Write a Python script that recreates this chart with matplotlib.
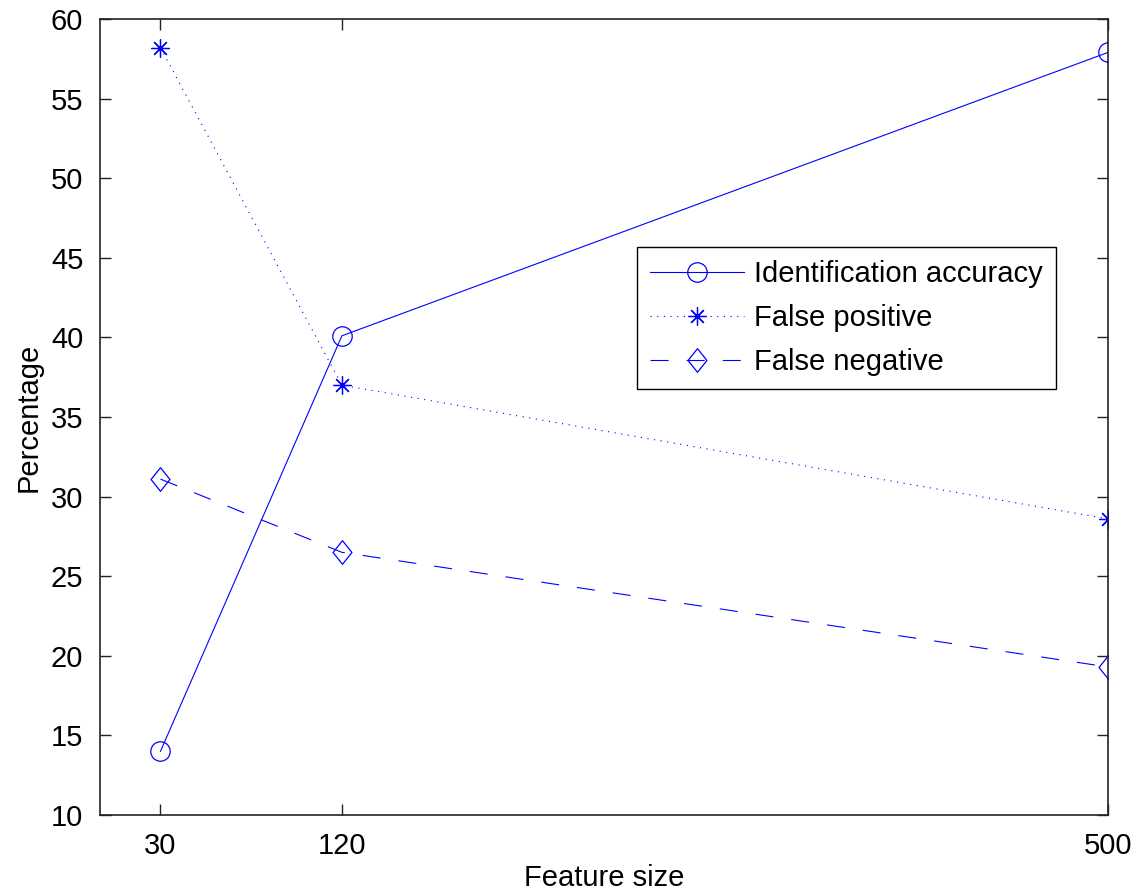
import matplotlib
matplotlib.use("Agg")
import matplotlib.pyplot as plt
from matplotlib.path import Path

plt.rcParams['font.family'] = ['Liberation Sans', 'DejaVu Sans']
plt.rcParams['lines.scale_dashes'] = False

# Données
feature_size = [30, 120, 500]
accuracy = [14.0, 40.1, 57.9]
false_pos = [58.2, 37.0, 28.6]
false_neg = [31.1, 26.5, 19.3]

# losange un peu plus haut que large, comme dans MATLAB
diamond = Path([(0, 1), (0.8, 0), (0, -1), (-0.8, 0), (0, 1)],
               [Path.MOVETO, Path.LINETO, Path.LINETO, Path.LINETO, Path.CLOSEPOLY])

fig = plt.figure(figsize=(11.4, 8.96), dpi=100)
ax = fig.add_axes([0.0877, 0.0904, 0.8842, 0.8884])

blue = '#0000ff'
ax.plot(feature_size, accuracy, color=blue, linestyle='-', linewidth=0.8,
        marker='o', markersize=14, markerfacecolor='none', markeredgewidth=0.9,
        label='Identification accuracy')
ax.plot(feature_size, false_pos, color=blue, linestyle=(0, (0.8, 4)), linewidth=0.8,
        marker=(8, 2, 0), markersize=13, markeredgewidth=0.9,
        label='False positive')
ax.plot(feature_size, false_neg, color=blue, linestyle=(0, (13, 13)), linewidth=0.8,
        marker=diamond, markersize=17, markerfacecolor='none', markeredgewidth=0.9,
        label='False negative')

ax.set_xlim(0, 500)
ax.set_ylim(10, 60)
ax.set_xticks(feature_size)
ax.set_yticks(range(10, 61, 5))
ax.tick_params(direction='in', top=True, right=True, length=8, width=1,
               labelsize=21, pad=12, colors='#222222', labelcolor='black')
for sp in ax.spines.values():
    sp.set_linewidth(1.2)
    sp.set_color('#222222')

ax.set_xlabel('Feature size', fontsize=21, labelpad=3)
ax.set_ylabel('Percentage', fontsize=21, labelpad=6)

leg = ax.legend(loc='upper left', bbox_to_anchor=(0.533, 0.7136), borderaxespad=0,
                fontsize=21, handlelength=3.2, handletextpad=0.35, fancybox=False,
                framealpha=1, edgecolor='black', borderpad=0.45, labelspacing=0.55)
leg.get_frame().set_linewidth(1.0)

fig.savefig('out.png', dpi=100)
